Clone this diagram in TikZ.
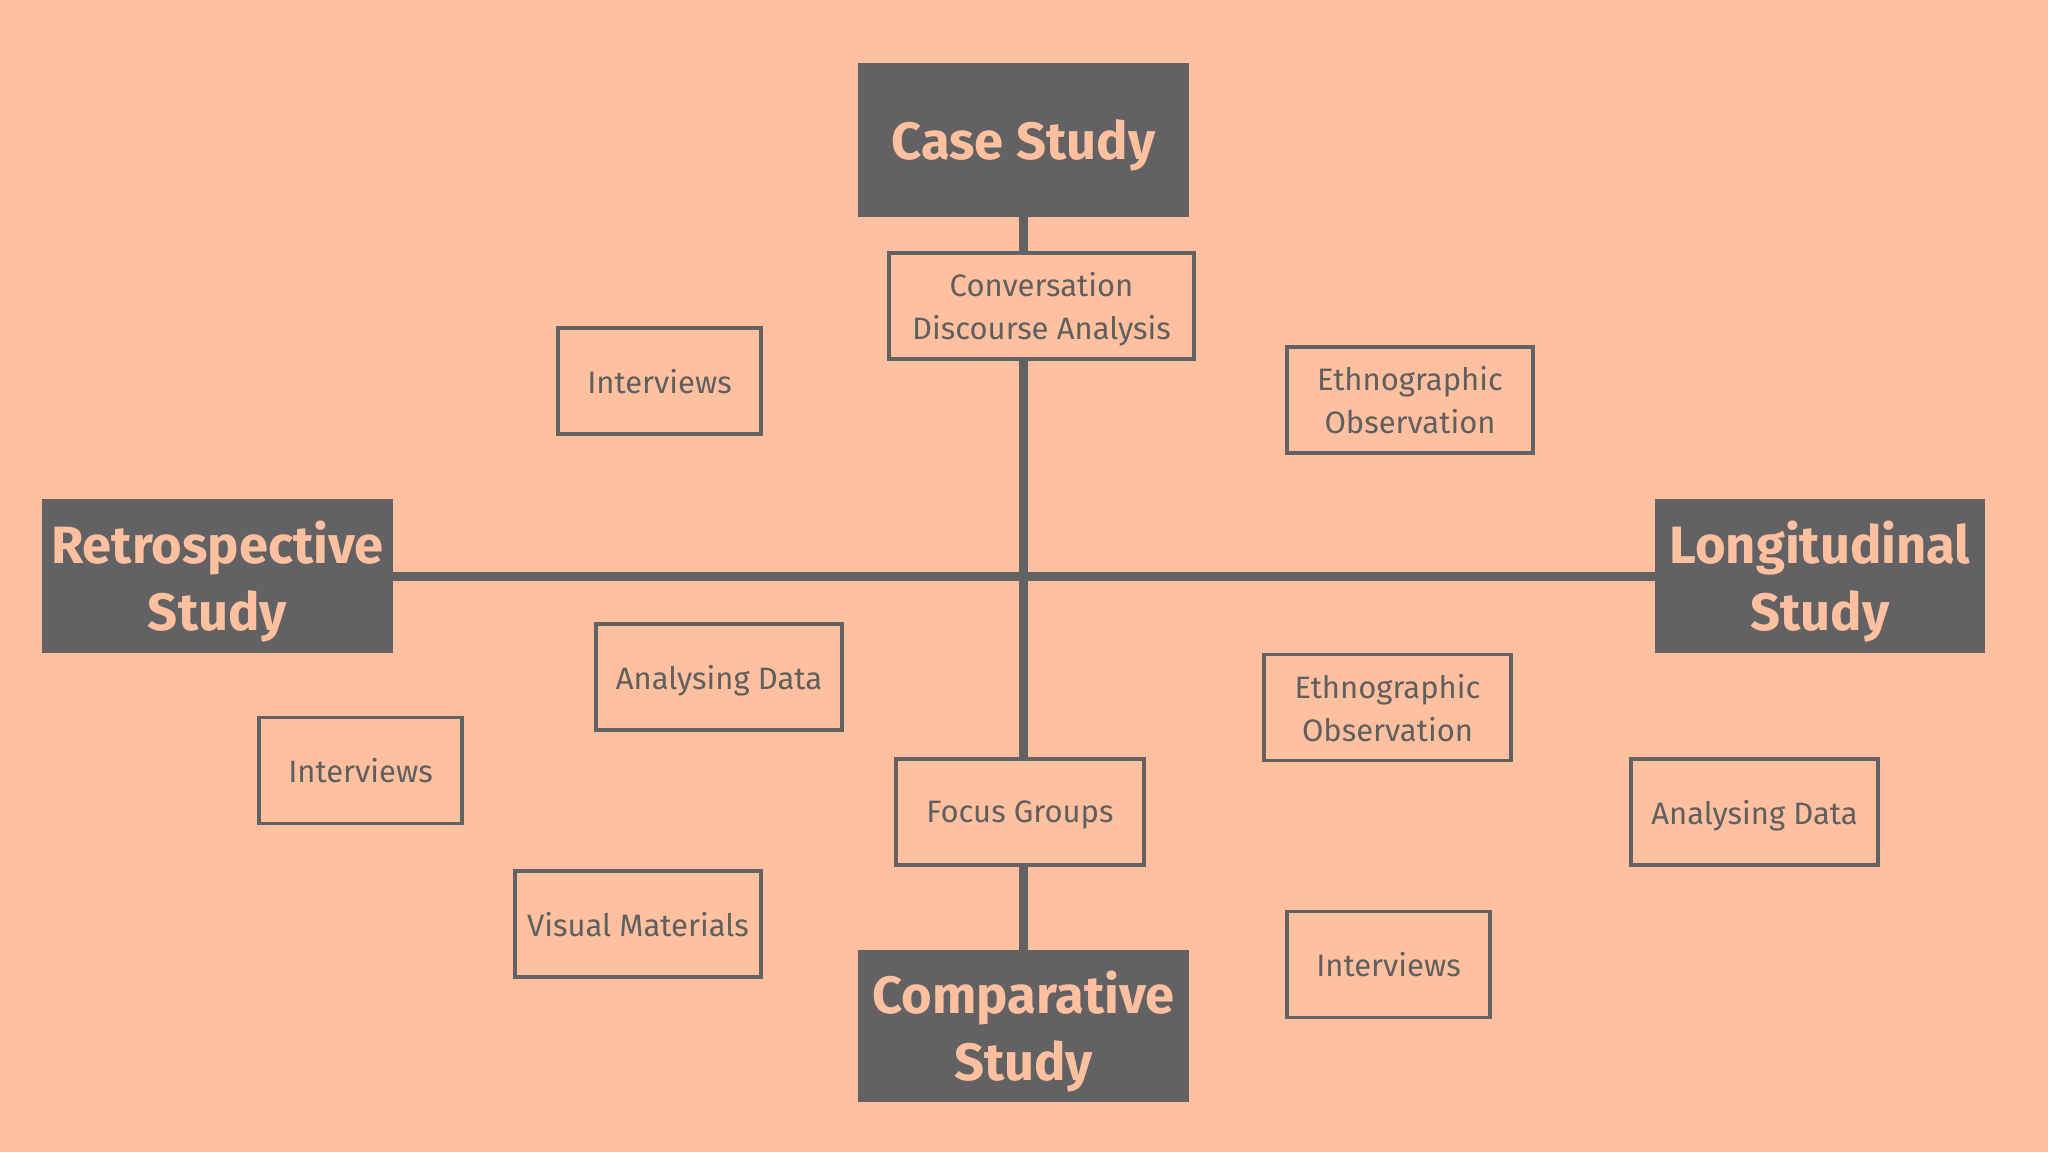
\documentclass[tikz,border=0pt]{standalone}
\usepackage{fontspec}
\setmainfont{Fira Sans}
\usetikzlibrary{backgrounds}
\definecolor{bgc}{RGB}{255,192,160}
\definecolor{dark}{RGB}{98,97,99}
\definecolor{txt}{RGB}{95,95,95}
\begin{document}
\begin{tikzpicture}[x=1pt,y=-1pt,
  titletext/.style={text=bgc,font=\fontsize{52.5}{67}\selectfont\bfseries,align=center,inner sep=0pt,text depth=0pt},
  itemtext/.style={text=txt,font=\fontsize{31}{43}\selectfont,align=center,inner sep=0pt,text depth=0pt},
  title/.style={fill=dark,draw=none,inner sep=0pt,minimum height=154pt,label={[titletext]center:#1}},
  item/.style={fill=bgc,draw=dark,line width=3.5pt,inner sep=0pt,minimum height=106pt,label={[itemtext]center:#1}},
  spine/.style={draw=dark,line width=9pt}]
\useasboundingbox (0,0) rectangle (2048,1152);
\node[title={Case Study},minimum width=331pt] (case) at (1023.5,140) {};
\node[title={Retrospective\\Study},minimum width=351pt] (retro) at (217.5,576) {};
\node[title={Longitudinal\\Study},minimum width=330pt] (long) at (1820,576) {};
\node[title={Comparative\\Study},minimum width=331pt,minimum height=152pt] (comp) at (1023.5,1026) {};
\node[item={Conversation\\Discourse Analysis},minimum width=305pt] (conv) at (1041.5,306) {};
\node[item={Interviews},minimum width=203pt] (int1) at (659.5,381) {};
\node[item={Ethnographic\\Observation},minimum width=246pt] (eth1) at (1410,400) {};
\node[item={Analysing Data},minimum width=246pt] (anal1) at (719,677) {};
\node[item={Interviews},minimum width=203pt] (int2) at (360.5,770.5) {};
\node[item={Focus Groups},minimum width=248pt] (focus) at (1020,812) {};
\node[item={Visual Materials},minimum width=246pt] (vis) at (638,924) {};
\node[item={Ethnographic\\Observation},minimum width=247pt] (eth2) at (1387.5,707.5) {};
\node[item={Analysing Data},minimum width=247pt] (anal2) at (1754.5,812) {};
\node[item={Interviews},minimum width=203pt] (int3) at (1388.5,964.5) {};
\begin{pgfonlayer}{background}
\fill[bgc] (0,0) rectangle (2048,1152);
\draw[spine] (case.south) -- (comp.north);
\draw[spine] (retro.east) -- (long.west);
\end{pgfonlayer}
\end{tikzpicture}
\end{document}
